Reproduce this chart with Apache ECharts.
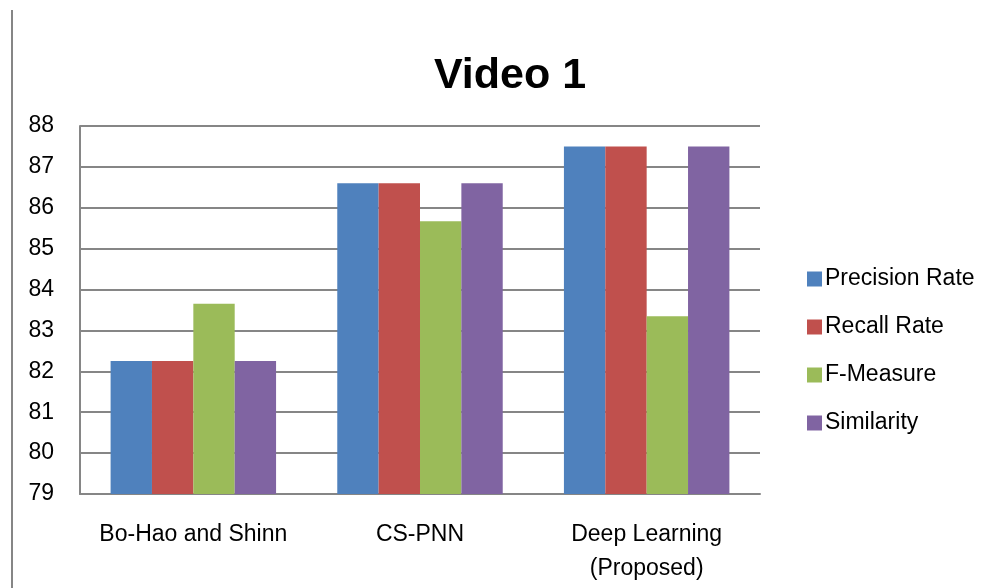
<!DOCTYPE html>
<html><head><meta charset="utf-8">
<script src="https://cdn.jsdelivr.net/npm/echarts@6/dist/echarts.min.js"></script>
<style>html,body{margin:0;padding:0;background:#fff}#c{width:990px;height:588px}</style>
</head><body><div id="c"></div>
<script>
const categories = ['Bo-Hao and Shinn', 'CS-PNN', 'Deep Learning\n(Proposed)'];
const seriesNames = ['Precision Rate', 'Recall Rate', 'F-Measure', 'Similarity'];
const precision = [82.25, 86.6, 87.5];
const recall = [82.25, 86.6, 87.5];
const fMeasure = [83.65, 85.67, 83.35];
const similarity = [82.25, 86.6, 87.5];
const colors = ['#4F81BD', '#C0504D', '#9BBB59', '#8064A2'];
const values = [precision, recall, fMeasure, similarity];
const FONT = '"Liberation Sans Narrow", "Liberation Sans", Arial, sans-serif';

const chart = echarts.init(document.getElementById('c'));
chart.setOption({
  animation: false,
  title: {
    text: 'Video 1', left: 505, top: 50, textAlign: 'center',
    textStyle: { fontFamily: FONT, fontWeight: 'bold', fontSize: 43, color: '#000' }
  },
  legend: {
    orient: 'vertical', left: 802, top: 259,
    itemWidth: 15, itemHeight: 15, itemGap: 18,
    icon: 'rect',
    textStyle: { fontFamily: FONT, fontSize: 23, color: '#000', lineHeight: 27, padding: [3, 0, 0, -2] },
    data: seriesNames
  },
  grid: { left: 80, right: 230, top: 126, bottom: 94, containLabel: false },
  xAxis: {
    type: 'category', data: categories,
    axisLine: { lineStyle: { color: '#868686', width: 2 } },
    axisTick: { show: false },
    axisLabel: { interval: 0, fontFamily: FONT, fontSize: 23, color: '#000', margin: 24, lineHeight: 34 }
  },
  yAxis: {
    type: 'value', min: 79, max: 88, interval: 1,
    axisLine: { show: true, lineStyle: { color: '#868686', width: 2 } },
    axisTick: { show: false },
    splitLine: { lineStyle: { color: '#868686', width: 2 } },
    axisLabel: { fontFamily: FONT, fontSize: 23, color: '#000', margin: 26 }
  },
  series: seriesNames.map((n, i) => ({
    name: n, type: 'bar', data: values[i],
    barGap: '0%', barCategoryGap: '27%',
    itemStyle: { color: colors[i] }
  })),
  graphic: [{
    type: 'line', shape: { x1: 12, y1: 10, x2: 12, y2: 588 },
    style: { stroke: '#868686', lineWidth: 2 }
  }]
});
</script></body></html>
